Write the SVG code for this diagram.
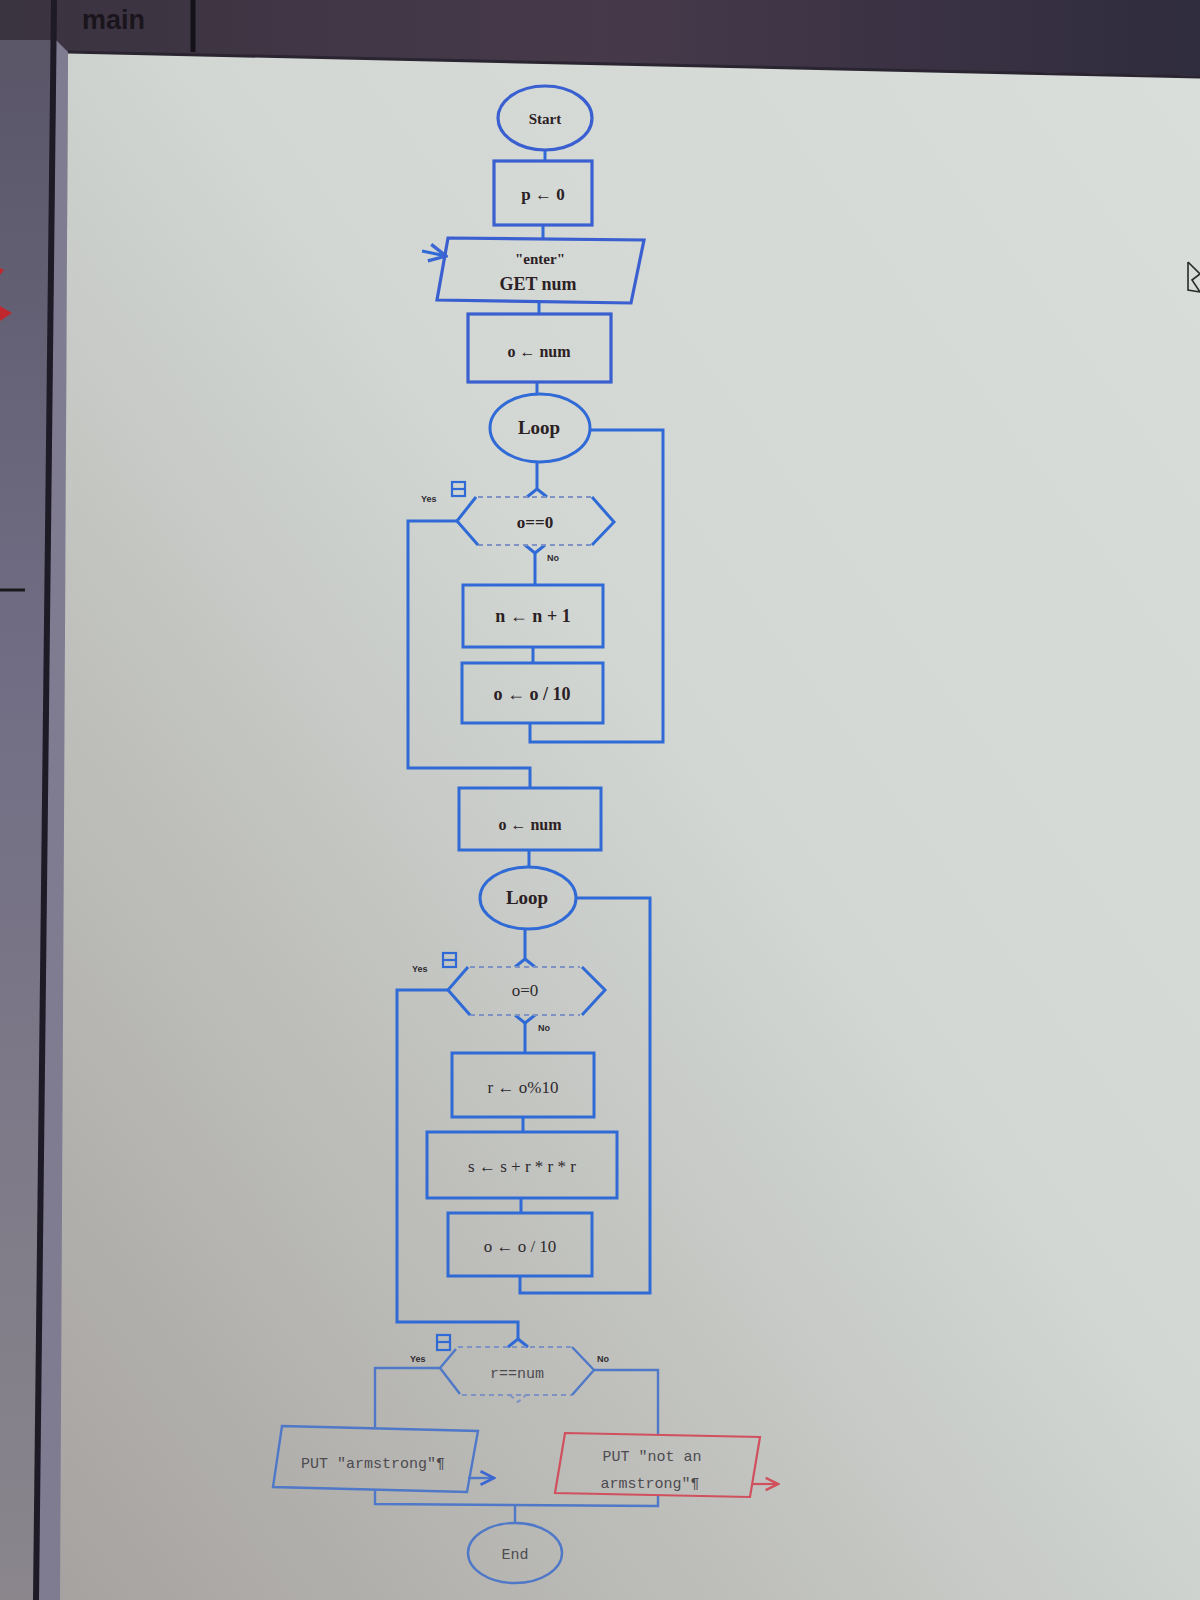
<svg xmlns="http://www.w3.org/2000/svg" width="1200" height="1600" viewBox="0 0 1200 1600">
<defs>
<linearGradient id="cv" x1="1" y1="0" x2="0" y2="1">
<stop offset="0" stop-color="#d9dedb"/>
<stop offset="0.45" stop-color="#d2d7d3"/>
<stop offset="1" stop-color="#a6a29f"/>
</linearGradient>
<linearGradient id="bar" x1="0" y1="0" x2="1" y2="0">
<stop offset="0" stop-color="#3a3340"/>
<stop offset="0.5" stop-color="#46394a"/>
<stop offset="1" stop-color="#2f2c3e"/>
</linearGradient>
<linearGradient id="strip" x1="0" y1="0" x2="0" y2="1">
<stop offset="0" stop-color="#5a5668"/>
<stop offset="0.4" stop-color="#716d84"/>
<stop offset="1" stop-color="#8a868c"/>
</linearGradient>
<marker id="ab" viewBox="0 0 10 10" refX="9" refY="5" markerWidth="7" markerHeight="7" orient="auto"><path d="M1,1 L9,5 L1,9" fill="none" stroke="#3b67d4" stroke-width="1.6"/></marker>
<marker id="ar" viewBox="0 0 10 10" refX="9" refY="5" markerWidth="7" markerHeight="7" orient="auto"><path d="M1,1 L9,5 L1,9" fill="none" stroke="#d0505e" stroke-width="1.6"/></marker>
</defs>
<style>
.n{fill:none;stroke:#2f6ad6;stroke-width:3}
.n1{fill:none;stroke:#3a5fd0;stroke-width:3.2}
.n3{fill:none;stroke:#4f78c8;stroke-width:2.4}
.c{fill:none;stroke:#2f6ad6;stroke-width:3}
.c3{fill:none;stroke:#4f78c8;stroke-width:2.4}
.d{fill:none;stroke:#7e93c4;stroke-width:2;stroke-dasharray:5 4}
.tb{font-family:"Liberation Serif",serif;font-weight:bold;fill:#2b2024;text-anchor:middle}
.tm{font-family:"Liberation Serif",serif;fill:#2e2a2e;text-anchor:middle}
.tl{font-family:"Liberation Mono",monospace;fill:#4d4b50;text-anchor:middle}
.sm{font-family:"Liberation Sans",sans-serif;font-weight:bold;font-size:9px;fill:#2e2a30}
.ic{fill:none;stroke:#2f6ad6;stroke-width:2.2}
</style>
<!-- background (photo of screen) -->
<rect x="0" y="0" width="1200" height="1600" fill="url(#bar)"/>
<polygon points="0,40 56,40 38,1600 0,1600" fill="url(#strip)"/>
<polygon points="56,40 68,52 62,1600 38,1600" fill="#7f7b90"/>
<line x1="54" y1="0" x2="36" y2="1600" stroke="#1e1a26" stroke-width="6"/>
<polygon points="68,52 1200,76 1200,1600 60,1600" fill="url(#cv)"/>
<line x1="68" y1="52" x2="1200" y2="77" stroke="#2a2530" stroke-width="3"/>
<line x1="193" y1="0" x2="193" y2="52" stroke="#15121a" stroke-width="5"/>
<text x="82" y="29" font-family="Liberation Sans, sans-serif" font-weight="bold" font-size="27" fill="#1a151c">main</text>
<line x1="0" y1="590" x2="25" y2="590" stroke="#1a1a1a" stroke-width="3"/>
<path d="M0,306 L12,313 L0,321 Z" fill="#c0282e"/>
<path d="M0,268 L4,270 L0,275 Z" fill="#c0282e"/>
<polyline points="1188,262 1200,274 1192,280 1200,292 1188,290 1188,262" fill="none" stroke="#2a2a2a" stroke-width="1.6"/>

<!-- connectors -->
<g id="connectors">
<line class="c" x1="545" y1="150" x2="545" y2="161"/>
<line class="c" x1="543" y1="225" x2="543" y2="239"/>
<line class="c" x1="422" y1="251" x2="446" y2="256" marker-end="url(#ab)"/>
<line class="c" x1="539" y1="302" x2="539" y2="314"/>
<line class="c" x1="537" y1="382" x2="537" y2="394"/>
<polyline class="c" points="537,462 537,489 527,497"/><line class="c" x1="537" y1="489" x2="547" y2="497"/>
<polyline class="c" points="457,521 408,521 408,768 530,768 530,788"/>
<polyline class="c" points="525,545 535,553 545,545"/><line class="c" x1="535" y1="553" x2="535" y2="585"/>
<line class="c" x1="533" y1="647" x2="533" y2="663"/>
<polyline class="c" points="530,723 530,742 663,742 663,430 590,430"/>
<line class="c" x1="529" y1="850" x2="529" y2="867"/>
<polyline class="c" points="525,929 525,959 515,967"/><line class="c" x1="525" y1="959" x2="535" y2="967"/>
<polyline class="c" points="448,990 397,990 397,1322 518,1322 518,1339 508,1347"/><line class="c" x1="518" y1="1339" x2="528" y2="1347"/>
<polyline class="c" points="515,1015 525,1023 535,1015"/><line class="c" x1="525" y1="1023" x2="525" y2="1053"/>
<line class="c" x1="523" y1="1117" x2="523" y2="1132"/>
<line class="c" x1="521" y1="1198" x2="521" y2="1213"/>
<polyline class="c" points="520,1276 520,1293 650,1293 650,898 576,898"/>
<polyline class="c3" points="440,1368 375,1368 375,1427"/>
<polyline class="c3" points="594,1370 658,1370 658,1434"/>
<polyline class="d" points="510,1395 518,1402 526,1395"/>
<line class="c3" x1="468" y1="1478" x2="494" y2="1478" marker-end="url(#ab)"/>
<line x1="752" y1="1484" x2="778" y2="1484" stroke="#d0505e" stroke-width="2.2" marker-end="url(#ar)"/>
<polyline class="c3" points="375,1490 375,1504 658,1506 658,1496"/>
<line class="c3" x1="515" y1="1505" x2="515" y2="1523"/>
</g>

<g id="start"><ellipse class="n1" cx="545" cy="118" rx="47" ry="32"/><text class="tb" x="545" y="124" font-size="15">Start</text></g>
<g id="assign_p"><rect class="n1" x="494" y="161" width="98" height="64"/><text class="tb" x="543" y="200" font-size="17">p ← 0</text></g>
<g id="input_num"><polygon class="n1" points="448,238 644,240 631,303 437,300"/><text class="tb" x="540" y="264" font-size="15">"enter"</text><text class="tb" x="538" y="290" font-size="18">GET num</text></g>
<g id="assign_o1"><rect class="n1" x="468" y="314" width="143" height="68"/><text class="tb" x="539" y="357" font-size="16">o ← num</text></g>
<g id="loop1"><ellipse class="n" cx="540" cy="428" rx="50" ry="34"/><text class="tb" x="539" y="434" font-size="19" font-weight="600">Loop</text></g>
<g id="cond1">
<line class="d" x1="478" y1="497" x2="592" y2="497"/><line class="d" x1="478" y1="545" x2="592" y2="545"/>
<polyline class="c" points="476,497 457,521 478,545"/><polyline class="c" points="592,497 614,522 592,545"/>
<rect class="ic" x="452" y="482" width="13" height="14"/><line class="ic" x1="452" y1="489" x2="465" y2="489"/>
<text class="tb" x="535" y="528" font-size="17">o==0</text>
<text class="sm" x="421" y="502">Yes</text><text class="sm" x="547" y="561">No</text>
</g>
<g id="assign_n"><rect class="n" x="463" y="585" width="140" height="62"/><text class="tb" x="533" y="622" font-size="18">n ← n + 1</text></g>
<g id="div1"><rect class="n" x="462" y="663" width="141" height="60"/><text class="tb" x="532" y="700" font-size="18">o ← o / 10</text></g>
<g id="assign_o2"><rect class="n" x="459" y="788" width="142" height="62"/><text class="tb" x="530" y="830" font-size="16">o ← num</text></g>
<g id="loop2"><ellipse class="n" cx="528" cy="898" rx="48" ry="31"/><text class="tb" x="527" y="904" font-size="19" font-weight="600">Loop</text></g>
<g id="cond2">
<line class="d" x1="470" y1="967" x2="580" y2="967"/><line class="d" x1="470" y1="1015" x2="580" y2="1015"/>
<polyline class="c" points="468,967 448,990 470,1015"/><polyline class="c" points="582,967 605,990 582,1015"/>
<rect class="ic" x="443" y="953" width="13" height="14"/><line class="ic" x1="443" y1="960" x2="456" y2="960"/>
<text class="tm" x="525" y="996" font-size="17">o=0</text>
<text class="sm" x="412" y="972" font-weight="normal">Yes</text><text class="sm" x="538" y="1031" font-weight="normal">No</text>
</g>
<g id="assign_r"><rect class="n" x="452" y="1053" width="142" height="64"/><text class="tm" x="523" y="1093" font-size="17">r ← o%10</text></g>
<g id="assign_s"><rect class="n" x="427" y="1132" width="190" height="66"/><text class="tm" x="522" y="1172" font-size="17">s ← s + r * r * r</text></g>
<g id="div2"><rect class="n" x="448" y="1213" width="144" height="63"/><text class="tm" x="520" y="1252" font-size="17" fill="#4a4a52">o ← o / 10</text></g>
<g id="cond3">
<line class="d" x1="458" y1="1347" x2="572" y2="1347"/><line class="d" x1="462" y1="1395" x2="572" y2="1395"/>
<polyline class="c3" points="456,1349 440,1368 460,1394"/><polyline class="c3" points="572,1347 594,1370 572,1395"/>
<rect class="ic" x="437" y="1335" width="13" height="15" stroke="#3f6ed0"/><line class="ic" x1="437" y1="1342" x2="450" y2="1342" stroke="#3f6ed0"/>
<text class="tl" x="517" y="1378" font-size="15">r==num</text>
<text class="sm" x="410" y="1362" font-weight="normal" font-size="8">Yes</text><text class="sm" x="597" y="1362" font-weight="normal" font-size="8">No</text>
</g>
<g id="put_yes"><polygon class="n3" points="282,1426 478,1431 467,1492 273,1487"/><text class="tl" x="373" y="1468" font-size="15">PUT "armstrong"¶</text></g>
<g id="put_no"><polygon points="565,1433 760,1437 750,1497 555,1493" fill="none" stroke="#d0505e" stroke-width="2.2"/><text class="tl" x="652" y="1461" font-size="15">PUT "not an</text><text class="tl" x="650" y="1488" font-size="15">armstrong"¶</text></g>
<g id="end"><ellipse class="n3" cx="515" cy="1553" rx="47" ry="30"/><text class="tl" x="515" y="1559" font-size="15">End</text></g>
</svg>
